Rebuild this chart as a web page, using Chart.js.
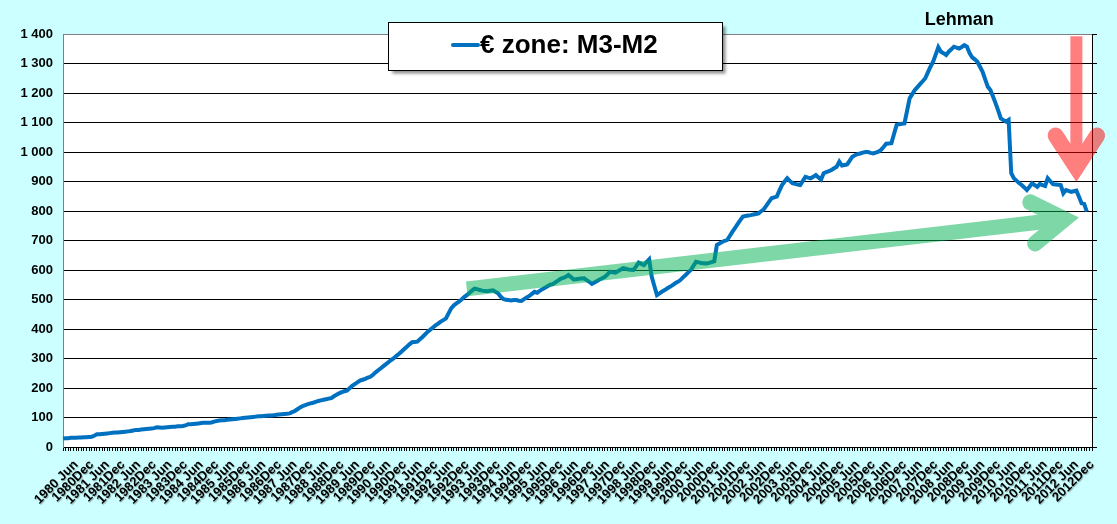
<!DOCTYPE html>
<html>
<head>
<meta charset="utf-8">
<script src="https://cdn.jsdelivr.net/npm/chart.js@4.4.1/dist/chart.umd.min.js"></script>
<style>
  html, body { margin: 0; padding: 0; background: #CCFFFF; }
  #wrap { width: 1117px; height: 524px; }
</style>
</head>
<body>
<div id="wrap"><canvas id="graficoM3M2"></canvas></div>
<script>
// Categorias: meses de 1980 Jan a 2012 Dec (rótulos só em Jun e Dec)
const nomesMeses = ['Jan', 'Feb', 'Mar', 'Apr', 'May', 'Jun', 'Jul', 'Aug', 'Sep', 'Oct', 'Nov', 'Dec'];
const anoInicio = 1980;
const anoFim = 2012;
const meses = [];
for (let a = anoInicio; a <= anoFim; a++) {
    nomesMeses.forEach(m => meses.push(a + m));
}

// Serie: € zone M3-M2
const serieM3M2 = [
    29, 30, 30, 31, 31, 31, 32, 32, 33, 33, 34, 35,              // 1980
    38, 43, 43, 44, 45, 46, 47, 48, 49, 49, 50, 51,              // 1981
    52, 53, 54, 56, 58, 58, 59, 60, 61, 62, 63, 64,              // 1982
    67, 66, 65, 66, 67, 68, 69, 69, 70, 70, 71, 73,              // 1983
    77, 77, 78, 79, 80, 81, 82, 82, 82, 83, 86, 88,              // 1984
    90, 91, 91, 92, 93, 94, 95, 96, 97, 98, 99, 100,             // 1985
    101, 102, 103, 104, 104, 105, 106, 107, 107, 108, 109, 110,  // 1986
    111, 112, 113, 114, 118, 122, 128, 134, 139, 142, 145, 148,  // 1987
    150, 153, 156, 158, 160, 162, 164, 166, 172, 177, 182, 186,  // 1988
    189, 191, 199, 207, 213, 219, 225, 228, 231, 235, 238, 245,  // 1989
    253, 260, 267, 274, 281, 288, 295, 301, 309, 316, 324, 332,  // 1990
    340, 348, 355, 356, 357, 365, 373, 382, 391, 398, 405, 412,  // 1991
    418, 425, 430, 436, 453, 470, 480, 487, 493, 500, 508, 515,  // 1992
    522, 530, 537, 535, 532, 530, 529, 528, 530, 531, 526, 521,  // 1993
    510, 502, 499, 498, 497, 498, 498, 496, 495, 501, 507, 512,  // 1994
    519, 526, 523, 529, 535, 540, 545, 550, 552, 558, 564, 570,  // 1995
    573, 577, 583, 576, 568, 569, 570, 571, 572, 566, 560, 553,  // 1996
    558, 563, 568, 572, 577, 585, 594, 592, 591, 596, 601, 606,  // 1997
    604, 602, 601, 600, 612, 625, 621, 617, 627, 636, 577, 546,  // 1998
    515, 521, 527, 532, 538, 543, 549, 555, 560, 566, 575, 583,  // 1999
    592, 600, 614, 628, 626, 624, 623, 622, 624, 627, 630, 685,  // 2000
    690, 695, 699, 702, 716, 730, 743, 756, 769, 781, 783, 785,  // 2001
    786, 788, 790, 792, 799, 806, 818, 831, 843, 846, 849, 869,  // 2002
    888, 900, 911, 902, 894, 892, 890, 888, 902, 916, 913, 911,  // 2003
    916, 922, 914, 907, 928, 932, 935, 939, 945, 950, 967, 954,  // 2004
    956, 958, 971, 984, 989, 993, 995, 998, 1000, 1000, 997, 995,            // 2005
    998, 1001, 1007, 1017, 1028, 1029, 1030, 1061, 1092, 1094, 1096, 1097,   // 2006
    1139, 1182, 1196, 1210, 1220, 1230, 1240, 1250, 1270, 1289, 1306, 1330,  // 2007
    1355, 1340, 1335, 1329, 1340, 1348, 1357, 1354, 1351, 1356, 1362, 1357,  // 2008
    1335, 1321, 1314, 1306, 1289, 1272, 1246, 1221, 1210, 1188, 1165, 1140,  // 2009
    1114, 1108, 1103, 1109, 928, 911, 903, 895, 888, 880, 871, 882,          // 2010
    894, 888, 882, 892, 888, 885, 911, 901, 891, 890, 889, 888,              // 2011
    860, 871, 868, 865, 867, 869, 848, 826, 824, 798, null, null             // 2012
];

// Ticks do eixo Y
const ticksY = [0, 100, 200, 300, 400, 500, 600, 700, 800, 900, 1000, 1100, 1200, 1300, 1400];

// Anotações (em coordenadas dos dados)
const setaVerde = { de: ['1992Dec', 536], ate: ['2012Jul', 778] };
const setaVermelha = { de: ['2012Jun', 1392], ate: ['2012Jun', 898] };
const rotuloLehman = { texto: 'Lehman', mes: '2008Sep' };

const fonte = "'Liberation Sans', Arial, sans-serif";

function formatarMilhar(v) {
    return String(v).replace(/\B(?=(\d{3})+(?!\d))/g, ' ');
}

// seta grossa: haste + ponta em "V" com extremidades arredondadas
function desenharSeta(c, x0, y0, x1, y1, cor, larguraHaste) {
    const larguraPonta = 16;
    const ang = 0.576;
    const braco = 38;
    const t = Math.atan2(y1 - y0, x1 - x0);
    const d = (larguraPonta / 2) / Math.sin(ang);
    const vx = x1 - d * Math.cos(t);
    const vy = y1 - d * Math.sin(t);
    c.strokeStyle = cor;

    c.lineWidth = larguraHaste;
    c.lineCap = 'butt';
    c.beginPath();
    c.moveTo(x0, y0);
    c.lineTo(vx, vy);
    c.stroke();

    c.lineWidth = larguraPonta;
    c.lineCap = 'round';
    c.lineJoin = 'miter';
    c.miterLimit = 10;
    c.beginPath();
    c.moveTo(vx - braco * Math.cos(t - ang), vy - braco * Math.sin(t - ang));
    c.lineTo(vx, vy);
    c.lineTo(vx - braco * Math.cos(t + ang), vy - braco * Math.sin(t + ang));
    c.stroke();
}

// desenha num canvas à parte e cola com transparência (sem sobreposição escura)
function setaTransparente(chart, x0, y0, x1, y1, cor, larguraHaste) {
    const ctx = chart.ctx;
    const off = document.createElement('canvas');
    off.width = chart.canvas.width;
    off.height = chart.canvas.height;
    const o = off.getContext('2d');
    o.setTransform(ctx.getTransform());
    desenharSeta(o, x0, y0, x1, y1, cor, larguraHaste);
    ctx.save();
    ctx.setTransform(1, 0, 0, 1, 0, 0);
    ctx.globalAlpha = 0.5;
    ctx.drawImage(off, 0, 0);
    ctx.restore();
}

const pluginFundo = {
    id: 'fundo',
    beforeDraw(chart) {
        const { ctx, chartArea: a } = chart;
        ctx.save();
        ctx.fillStyle = '#CCFFFF';
        ctx.fillRect(0, 0, chart.width, chart.height);
        ctx.fillStyle = '#FFFFFF';
        ctx.fillRect(a.left, a.top, a.right - a.left, a.bottom - a.top);
        ctx.restore();

        // sombra leve nos rótulos do eixo X
        const sx = chart.scales.x;
        if (sx && !sx._comSombra) {
            const original = sx.drawLabels.bind(sx);
            sx.drawLabels = function (area) {
                ctx.save();
                ctx.shadowColor = 'rgba(0, 0, 0, 0.3)';
                ctx.shadowOffsetX = 1;
                ctx.shadowOffsetY = 1;
                ctx.shadowBlur = 1;
                original(area);
                ctx.restore();
            };
            sx._comSombra = true;
        }
    }
};

const pluginAnotacoes = {
    id: 'anotacoes',
    afterDraw(chart) {
        const { ctx, scales: { x, y }, chartArea: a } = chart;
        const px = (m) => x.getPixelForValue(meses.indexOf(m));

        setaTransparente(chart,
            px(setaVerde.de[0]), y.getPixelForValue(setaVerde.de[1]),
            px(setaVerde.ate[0]), y.getPixelForValue(setaVerde.ate[1]),
            'rgb(0, 177, 81)', 15);

        setaTransparente(chart,
            px(setaVermelha.de[0]), y.getPixelForValue(setaVermelha.de[1]),
            px(setaVermelha.ate[0]), y.getPixelForValue(setaVermelha.ate[1]),
            'rgb(255, 0, 0)', 12);

        // Lehman
        ctx.save();
        ctx.font = 'bold 18px ' + fonte;
        ctx.fillStyle = '#000';
        ctx.textAlign = 'center';
        ctx.textBaseline = 'middle';
        ctx.fillText(rotuloLehman.texto, px(rotuloLehman.mes), a.top - 14);
        ctx.restore();

        // legenda
        ctx.save();
        ctx.shadowColor = 'rgba(0, 0, 0, 0.45)';
        ctx.shadowOffsetX = 3;
        ctx.shadowOffsetY = 3;
        ctx.shadowBlur = 3;
        ctx.fillStyle = '#FFFFFF';
        ctx.fillRect(388.5, 22.5, 334, 48);
        ctx.shadowColor = 'transparent';
        ctx.strokeStyle = '#000';
        ctx.lineWidth = 1;
        ctx.strokeRect(388.5, 22.5, 334, 48);
        ctx.strokeStyle = '#0070C0';
        ctx.lineWidth = 4;
        ctx.lineCap = 'round';
        ctx.beginPath();
        ctx.moveTo(453, 45);
        ctx.lineTo(478, 45);
        ctx.stroke();
        ctx.font = 'bold 26px ' + fonte;
        ctx.fillStyle = '#000';
        ctx.textAlign = 'left';
        ctx.textBaseline = 'middle';
        ctx.fillText(chart.data.datasets[0].label, 480, 46);
        ctx.restore();
    }
};

const ctx = document.getElementById('graficoM3M2').getContext('2d');

new Chart(ctx, {
    type: 'line',
    data: {
        labels: meses,
        datasets: [{
            label: '€ zone: M3-M2',
            data: serieM3M2,
            borderColor: '#0070C0',
            borderWidth: 4,
            pointRadius: 0,
            tension: 0,
            fill: false,
            spanGaps: false
        }]
    },
    options: {
        responsive: true,
        maintainAspectRatio: false,
        animation: false,
        layout: { padding: { top: 34, left: 0, right: 0, bottom: 0 } },
        plugins: {
            legend: { display: false },
            tooltip: { enabled: false }
        },
        scales: {
            x: {
                offset: false,
                border: { color: '#000', width: 1 },
                grid: {
                    drawOnChartArea: false,
                    drawTicks: true,
                    tickLength: 4,
                    color: '#000'
                },
                ticks: {
                    autoSkip: false,
                    maxRotation: 45,
                    minRotation: 45,
                    padding: 6,
                    color: '#000',
                    font: { size: 13, weight: 'bold', family: fonte },
                    callback: function (v) {
                        const l = meses[v];
                        if (l.endsWith('Jun')) return l.slice(0, 4) + ' Jun';
                        if (l.endsWith('Dec')) return l;
                        return '';
                    }
                },
                afterFit(scale) { scale.height = 77; }
            },
            y: {
                min: 0,
                max: 1400,
                border: { color: '#808080', width: 1 },
                grid: {
                    drawTicks: false,
                    lineWidth: 1,
                    color: (c) => (c.tick && c.tick.value === 1400) ? '#808080' : '#000'
                },
                afterBuildTicks(scale) { scale.ticks = ticksY.map(v => ({ value: v })); },
                ticks: {
                    padding: 10,
                    color: '#000',
                    font: { size: 13, weight: 'bold', family: fonte },
                    callback: (v) => formatarMilhar(v)
                },
                afterFit(scale) { scale.width = 63; }
            },
            y2: {
                position: 'right',
                min: 0,
                max: 1400,
                border: { color: '#000', width: 1 },
                grid: {
                    drawOnChartArea: false,
                    drawTicks: true,
                    tickLength: 5,
                    color: '#000'
                },
                afterBuildTicks(scale) { scale.ticks = ticksY.map(v => ({ value: v })); },
                ticks: { callback: () => '' },
                afterFit(scale) { scale.width = 25; }
            }
        }
    },
    plugins: [pluginFundo, pluginAnotacoes]
});
</script>
</body>
</html>
